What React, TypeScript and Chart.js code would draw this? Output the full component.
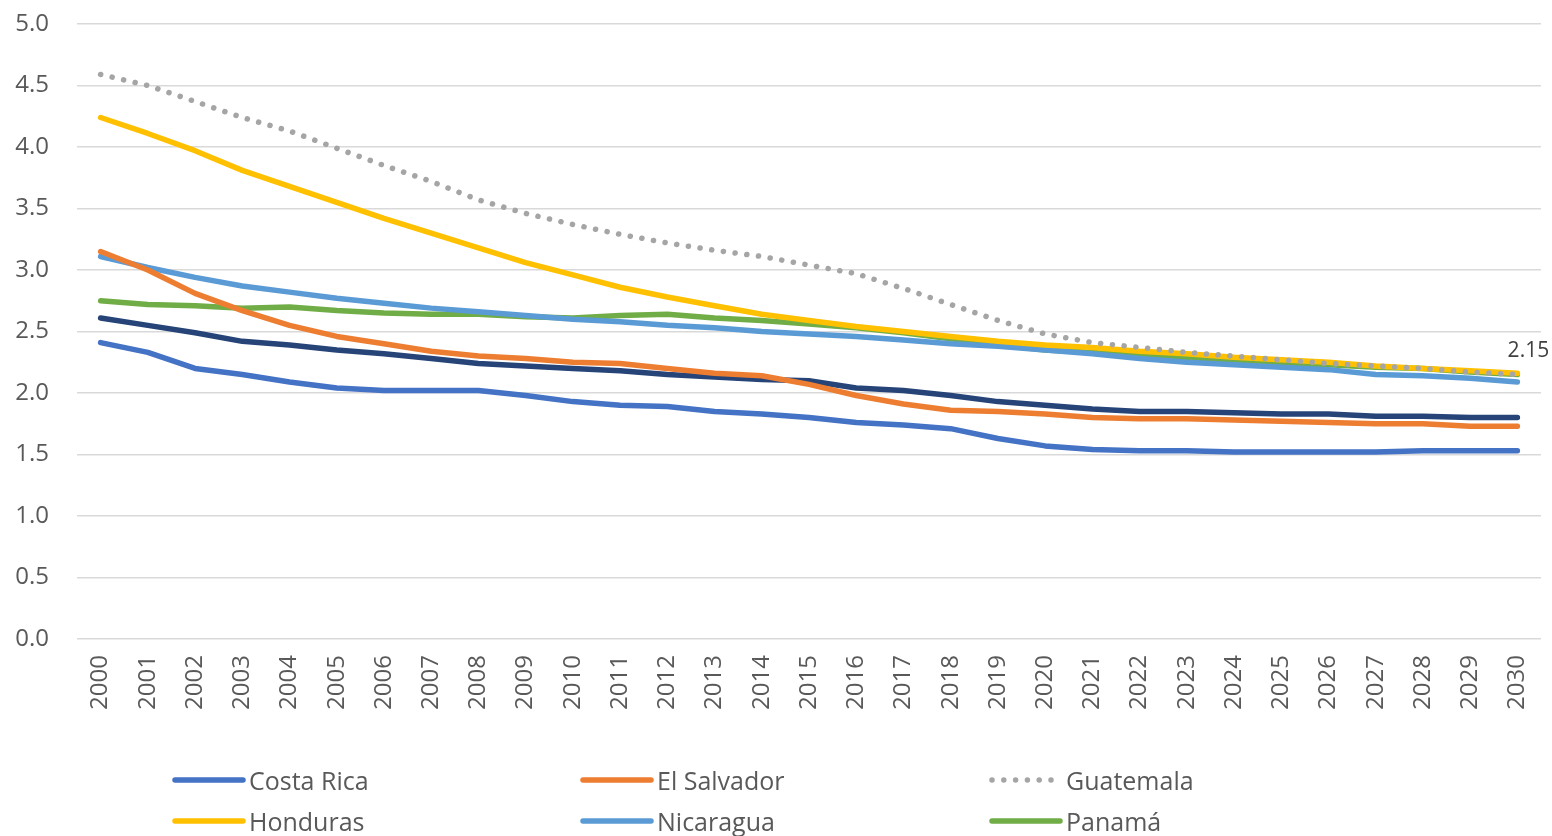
import React, { useEffect, useRef } from "react";
import { Chart, registerables } from "chart.js";

Chart.register(...registerables);

const years: string[] = [];
for (let y = 2000; y <= 2030; y++) years.push(String(y));

const costaRica = [2.41, 2.33, 2.2, 2.15, 2.09, 2.04, 2.02, 2.02, 2.02, 1.98, 1.93, 1.9, 1.89, 1.85, 1.83, 1.8, 1.76, 1.74, 1.71, 1.63, 1.57, 1.54, 1.53, 1.53, 1.52, 1.52, 1.52, 1.52, 1.53, 1.53, 1.53];
const elSalvador = [3.15, 3.0, 2.81, 2.67, 2.55, 2.46, 2.4, 2.34, 2.3, 2.28, 2.25, 2.24, 2.2, 2.16, 2.14, 2.07, 1.98, 1.91, 1.86, 1.85, 1.83, 1.8, 1.79, 1.79, 1.78, 1.77, 1.76, 1.75, 1.75, 1.73, 1.73];
const guatemala = [4.59, 4.5, 4.37, 4.24, 4.13, 3.99, 3.85, 3.72, 3.57, 3.46, 3.37, 3.29, 3.22, 3.16, 3.11, 3.04, 2.97, 2.85, 2.72, 2.59, 2.48, 2.41, 2.37, 2.33, 2.3, 2.27, 2.24, 2.22, 2.2, 2.17, 2.15];
const honduras = [4.24, 4.11, 3.97, 3.81, 3.68, 3.55, 3.42, 3.3, 3.18, 3.06, 2.96, 2.86, 2.78, 2.71, 2.64, 2.59, 2.54, 2.5, 2.46, 2.42, 2.39, 2.37, 2.34, 2.32, 2.29, 2.27, 2.25, 2.22, 2.2, 2.18, 2.16];
const nicaragua = [3.11, 3.02, 2.94, 2.87, 2.82, 2.77, 2.73, 2.69, 2.66, 2.63, 2.6, 2.58, 2.55, 2.53, 2.5, 2.48, 2.46, 2.43, 2.4, 2.38, 2.35, 2.32, 2.28, 2.25, 2.23, 2.21, 2.19, 2.15, 2.14, 2.12, 2.09];
const panama = [2.75, 2.72, 2.71, 2.69, 2.7, 2.67, 2.65, 2.64, 2.64, 2.62, 2.61, 2.63, 2.64, 2.61, 2.59, 2.56, 2.53, 2.49, 2.44, 2.39, 2.35, 2.33, 2.3, 2.28, 2.26, 2.24, 2.23, 2.21, 2.2, 2.17, 2.15];
const americaLatina = [2.61, 2.55, 2.49, 2.42, 2.39, 2.35, 2.32, 2.28, 2.24, 2.22, 2.2, 2.18, 2.15, 2.13, 2.11, 2.1, 2.04, 2.02, 1.98, 1.93, 1.9, 1.87, 1.85, 1.85, 1.84, 1.83, 1.83, 1.81, 1.81, 1.8, 1.8];

const yTicks = [0, 0.5, 1, 1.5, 2, 2.5, 3, 3.5, 4, 4.5, 5];
const lastLabel = "2.15";

const FONT = "'Open Sans', 'Noto Sans', sans-serif";
const TEXT = "#595959";

const series = [
  { label: "Costa Rica", data: costaRica, color: "#4472C4", dotted: false, legend: true },
  { label: "El Salvador", data: elSalvador, color: "#ED7D31", dotted: false, legend: true },
  { label: "Guatemala", data: guatemala, color: "#A5A5A5", dotted: true, legend: true },
  { label: "Honduras", data: honduras, color: "#FFC000", dotted: false, legend: true },
  { label: "Nicaragua", data: nicaragua, color: "#5B9BD5", dotted: false, legend: true },
  { label: "Panamá", data: panama, color: "#70AD47", dotted: false, legend: true },
  { label: "América Latina y el Caribe", data: americaLatina, color: "#264478", dotted: false, legend: false },
];

const labelPlugin = {
  id: "lastLabel",
  afterDatasetsDraw(chart: any) {
    const meta = chart.getDatasetMeta(3);
    const pt = meta.data[meta.data.length - 1];
    if (!pt) return;
    const ctx = chart.ctx;
    ctx.save();
    ctx.font = `21px ${FONT}`;
    ctx.fillStyle = "#404040";
    ctx.textAlign = "center";
    ctx.textBaseline = "middle";
    ctx.fillText(lastLabel, pt.x + 11, pt.y - 22);
    ctx.restore();
  },
};

function LegendLine({ color, dotted }: { color: string; dotted: boolean }) {
  return (
    <svg width={74} height={10} style={{ display: "block" }}>
      {dotted ? (
        <line x1={3} y1={5} x2={71} y2={5} stroke={color} strokeWidth={5.5} strokeLinecap="round" strokeDasharray="0 11.8" />
      ) : (
        <line x1={3} y1={5} x2={71} y2={5} stroke={color} strokeWidth={5.5} strokeLinecap="round" />
      )}
    </svg>
  );
}

export default function App() {
  const ref = useRef<HTMLCanvasElement | null>(null);

  useEffect(() => {
    document.body.style.margin = "0";
    if (!ref.current) return;
    const chart = new Chart(ref.current, {
      type: "line",
      data: {
        labels: years,
        datasets: series.map((s) => ({
          label: s.label,
          data: s.data,
          borderColor: s.color,
          backgroundColor: s.color,
          borderWidth: 5.5,
          pointRadius: 0,
          pointHoverRadius: 0,
          tension: 0,
          fill: false,
          borderCapStyle: "round" as const,
          borderJoinStyle: "round" as const,
          borderDash: s.dotted ? [0.1, 11.7] : [],
        })),
      },
      options: {
        animation: false,
        responsive: true,
        maintainAspectRatio: false,
        layout: { padding: { top: 24, right: 11, left: 0, bottom: 0 } },
        plugins: {
          legend: { display: false },
          tooltip: { enabled: false },
        },
        scales: {
          x: {
            type: "category",
            offset: true,
            grid: { display: false },
            border: { display: false },
            ticks: {
              minRotation: 90,
              maxRotation: 90,
              autoSkip: false,
              padding: 8,
              color: TEXT,
              font: { family: FONT, size: 24 },
            },
            afterFit: (scale: any) => {
              scale.height = 197;
              scale.paddingLeft = 0;
              scale.paddingRight = 0;
            },
          },
          y: {
            min: 0,
            max: 5,
            grid: { color: "#D9D9D9", lineWidth: 1.5, drawTicks: false },
            border: { display: false },
            afterBuildTicks: (scale: any) => {
              scale.ticks = yTicks.map((v) => ({ value: v }));
            },
            ticks: {
              padding: 28,
              color: TEXT,
              font: { family: FONT, size: 24 },
              callback: (v: any) => Number(v).toFixed(1),
            },
            afterFit: (scale: any) => {
              scale.width = 77;
              scale.paddingTop = 0;
              scale.paddingBottom = 0;
            },
          },
        },
      },
      plugins: [labelPlugin],
    });
    return () => chart.destroy();
  }, []);

  const legendItems = series.filter((s) => s.legend);
  const colX = [172, 580, 989];
  const rowY = [780, 821];

  return (
    <div style={{ position: "relative", width: 1552, height: 836, overflow: "hidden", background: "#fff" }}>
      <canvas ref={ref} />
      {legendItems.map((s, i) => (
        <div
          key={s.label}
          style={{
            position: "absolute",
            left: colX[i % 3],
            top: rowY[Math.floor(i / 3)] - 18,
            height: 36,
            display: "flex",
            alignItems: "center",
            fontFamily: FONT,
            fontSize: 25,
            color: TEXT,
            whiteSpace: "nowrap",
          }}
        >
          <LegendLine color={s.color} dotted={s.dotted} />
          <span style={{ marginLeft: 3 }}>{s.label}</span>
        </div>
      ))}
    </div>
  );
}
